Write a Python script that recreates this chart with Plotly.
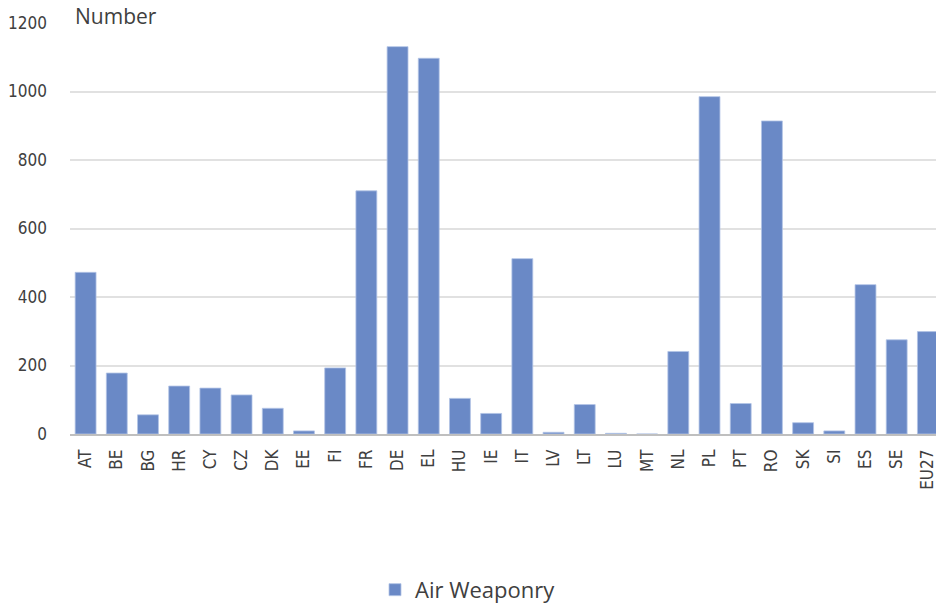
import plotly.graph_objects as go

countries = ["AT", "BE", "BG", "HR", "CY", "CZ", "DK", "EE", "FI", "FR", "DE", "EL",
             "HU", "IE", "IT", "LV", "LT", "LU", "MT", "NL", "PL", "PT", "RO", "SK",
             "SI", "ES", "SE", "EU27"]
air_weaponry = [472, 178, 56, 140, 134, 114, 75, 9, 193, 710, 1131, 1097,
                104, 60, 512, 5, 86, 2, 0, 241, 985, 89, 914, 33,
                9, 436, 275, 299]

y_ticks = [0, 200, 400, 600, 800, 1000, 1200]

bar_color = "#6a89c6"
text_color = "#404040"
tick_font = "DejaVu Sans Condensed, DejaVu Sans, sans-serif"
label_font = "Open Sans, Noto Sans, sans-serif"

fig = go.Figure()
fig.add_trace(go.Bar(
    x=countries,
    y=air_weaponry,
    name="Air Weaponry",
    marker=dict(color=bar_color, line=dict(color="#b3c4e6", width=0.8)),
    showlegend=True,
))

fig.update_layout(
    width=936,
    height=605,
    margin=dict(l=70, r=0, t=23, b=171),
    paper_bgcolor="white",
    plot_bgcolor="white",
    bargap=0.33,
    showlegend=True,
    legend=dict(
        orientation="h",
        xref="container", yref="container",
        x=0.5, y=0.025, xanchor="center", yanchor="middle",
        font=dict(family=label_font, size=22, color=text_color),
        itemwidth=30,
    ),
    xaxis=dict(
        type="category",
        range=[-0.5, 27.26],
        tickangle=-90,
        tickfont=dict(family=tick_font, size=17, color=text_color),
        showline=True, linecolor="#bfbfbf", linewidth=1.5,
        showgrid=False, ticks="",
        ticklabelstandoff=7,
    ),
    yaxis=dict(
        range=[0, 1200],
        tickvals=y_ticks,
        ticktext=[str(v) for v in y_ticks],
        tickfont=dict(family=tick_font, size=17, color=text_color),
        showgrid=True, gridcolor="#e1e1e1", gridwidth=1.5,
        zeroline=False, showline=False, ticks="",
        ticklabelstandoff=22,
    ),
    annotations=[dict(
        text="Number",
        xref="paper", yref="paper",
        x=0.0, y=1.0, xanchor="left", yanchor="middle",
        xshift=0, yshift=7,
        showarrow=False,
        font=dict(family=label_font, size=21, color=text_color),
        bgcolor="white",
        borderpad=4,
    )],
)

fig.write_html("out.html")
